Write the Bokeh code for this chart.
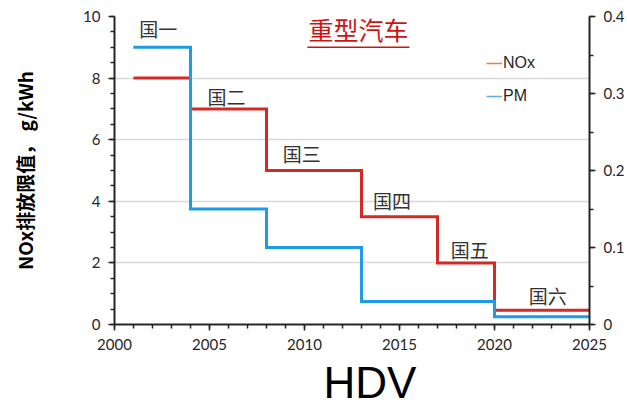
from bokeh.plotting import figure
from bokeh.models import (Range1d, LinearAxis, SingleIntervalTicker, Label,
                          Legend, LegendItem, ColumnDataSource, Title)
from bokeh.core.properties import value
from bokeh.embed import file_html
from bokeh.resources import INLINE

# ---- data ----
nox_years = [2001, 2004, 2008, 2013, 2017, 2020, 2025]
nox_limits = [8, 7, 5, 3.5, 2, 0.46, 0.46]          # g/kWh (left axis)
pm_years = [2001, 2004, 2008, 2013, 2020, 2025]
pm_limits = [0.36, 0.15, 0.10, 0.03, 0.01, 0.01]     # g/kWh (right axis)
stage_names = ["国一", "国二", "国三", "国四", "国五", "国六"]
stage_x = [2002.3, 2005.9, 2009.85, 2014.6, 2018.7, 2022.8]
stage_y = [9.6, 7.39, 5.54, 4.04, 2.44, 0.94]
title_text = "重型汽车"
ylabel_text = "NOx排放限值， g/kWh"
xlabel_text = "HDV"

RED = "#d22b26"
BLUE = "#1e9be5"
AX = "#262626"
TICKFONT = "Lato"
CJK = "Noto Sans CJK SC"

p = figure(width=627, height=409, output_backend="svg", toolbar_location=None,
           x_range=Range1d(2000, 2025), y_range=Range1d(0, 10),
           min_border_left=114, min_border_right=38, min_border_top=16,
           min_border_bottom=0)
p.extra_y_ranges = {"pm": Range1d(0, 0.4)}
p.outline_line_color = None
p.background_fill_color = "white"
p.border_fill_color = "white"

# grid
p.xgrid.grid_line_color = None
p.ygrid.grid_line_color = "#d9d9d9"
p.ygrid.grid_line_width = 1.5

# x axis
xa = p.xaxis[0]
xa.ticker = SingleIntervalTicker(interval=5, num_minor_ticks=5)
# y axis
ya = p.yaxis[0]
ya.ticker = SingleIntervalTicker(interval=2, num_minor_ticks=4)
p.ygrid.ticker = ya.ticker

ra = LinearAxis(y_range_name="pm",
                ticker=SingleIntervalTicker(interval=0.1, num_minor_ticks=2))
p.add_layout(ra, "right")

for ax in (xa, ya, ra):
    ax.axis_line_color = AX
    ax.axis_line_width = 2
    ax.major_tick_line_color = AX
    ax.major_tick_line_width = 1.5
    ax.minor_tick_line_color = AX
    ax.minor_tick_line_width = 1.5
    ax.major_tick_in = 0
    ax.major_tick_out = 6
    ax.minor_tick_in = 0
    ax.minor_tick_out = 4
    ax.major_label_text_font = TICKFONT
    ax.major_label_text_font_size = "15px"
    ax.major_label_text_color = AX
    ax.major_label_standoff = 8

ya.axis_label = ylabel_text
ya.axis_label_text_font = CJK
ya.axis_label_text_font_style = "bold"
ya.axis_label_text_font_size = "19px"
ya.axis_label_text_color = "black"
ya.axis_label_standoff = 42

# HDV title below the x axis
hdv = Title(text=xlabel_text, align="left", offset=209,
            text_font="Liberation Sans", text_font_size="44px",
            text_font_style="normal", text_color="black", standoff=6)
p.add_layout(hdv, "below")

# thin lighter copies beneath the main steps (used for the legend swatches)
lg_nox = p.step(nox_years, nox_limits, mode="after", line_color="#f4765a",
                line_width=1.5)
lg_pm = p.step(pm_years, pm_limits, mode="after", line_color="#5aacec",
               line_width=1.5, y_range_name="pm")

# step lines
r_nox = p.step(nox_years, nox_limits, mode="after", line_color=RED,
               line_width=3, line_join="miter")
r_pm = p.step(pm_years, pm_limits, mode="after", line_color=BLUE,
              line_width=3, line_join="miter", y_range_name="pm")

legend = Legend(items=[LegendItem(label="NOx", renderers=[lg_nox]),
                       LegendItem(label="PM", renderers=[lg_pm])],
                location=(372, 218), orientation="vertical",
                glyph_width=16, glyph_height=20, label_standoff=1,
                spacing=13, padding=0, margin=0,
                border_line_color=None, background_fill_alpha=0,
                label_text_font="Liberation Sans", label_text_font_size="16px",
                label_text_color=AX)
p.add_layout(legend)

# stage labels
src = ColumnDataSource(dict(x=stage_x, y=stage_y, t=stage_names))
p.text(x="x", y="y", text="t", source=src, text_font=value(CJK),
       text_font_size="19px", text_color="#333333", text_align="center",
       text_baseline="middle")

# title with underline
tx, ty = 2012.84, 9.58
p.add_layout(Label(x=tx, y=ty, text=title_text, text_font=CJK,
                   text_font_size="25px", text_color="#cc1414",
                   text_align="center", text_baseline="middle"))
p.segment(x0=[tx - 2.69], y0=[9.0], x1=[tx + 2.69], y1=[9.0],
          line_color="#cc1414", line_width=1.5)

open("out.html", "w").write(file_html(p, INLINE))
